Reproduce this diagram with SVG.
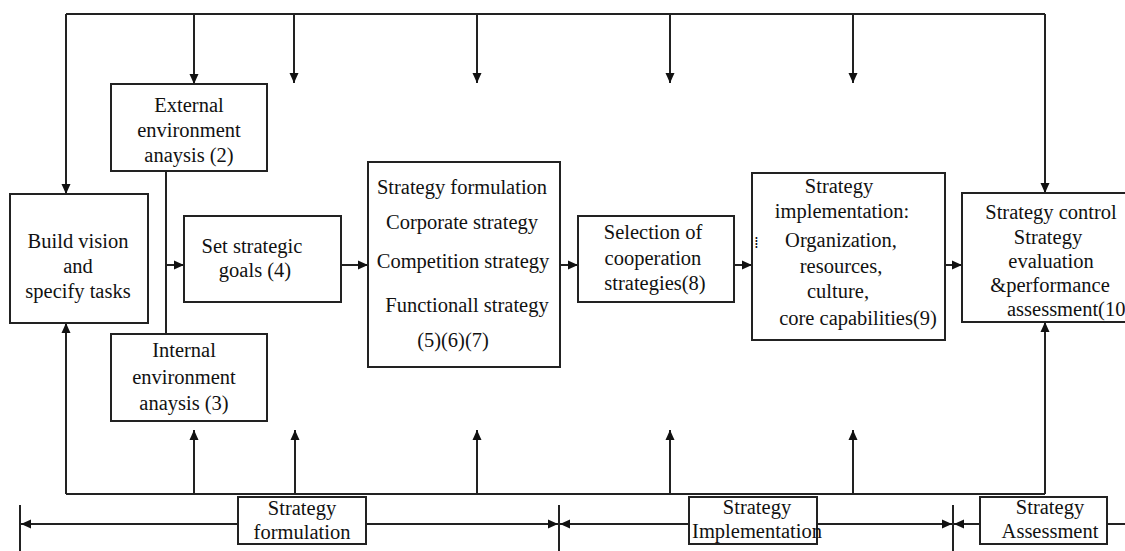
<svg xmlns="http://www.w3.org/2000/svg" width="1125" height="551" viewBox="0 0 1125 551">
  <style>
    .box { fill: #fff; stroke: #222; stroke-width: 2; }
    .ln { fill: none; stroke: #222; stroke-width: 2; }
    .arr { fill: none; stroke: #222; stroke-width: 2; marker-end: url(#head); }
    .t { font-family: 'Liberation Serif', 'DejaVu Serif', 'Times New Roman', Times, serif; font-size: 20.5px; fill: #111; }
    .c { text-anchor: middle; }
    .dots { font-family: 'DejaVu Sans', sans-serif; font-size: 15px; fill: #111; }
  </style>
  <defs>
    <marker id="head" viewBox="0 0 10 10" refX="10" refY="5" markerWidth="10" markerHeight="10" markerUnits="userSpaceOnUse" orient="auto">
      <path d="M0,0.5 L10,5 L0,9.5 Z" fill="#111"/>
    </marker>
  </defs>
  <rect width="1125" height="551" fill="#fff"/>

  <g id="connectors">
    <!-- feedback loop across the top -->
    <polyline class="ln" points="66,14 1045,14"/>
    <line class="arr" x1="66" y1="14" x2="66" y2="194"/>
    <line class="arr" x1="194" y1="14" x2="194" y2="84"/>
    <line class="arr" x1="294" y1="14" x2="294" y2="83"/>
    <line class="arr" x1="477" y1="14" x2="477" y2="83"/>
    <line class="arr" x1="670" y1="14" x2="670" y2="83"/>
    <line class="arr" x1="853" y1="14" x2="853" y2="83"/>
    <line class="arr" x1="1045" y1="14" x2="1045" y2="193"/>
    <!-- feedback loop across the bottom -->
    <polyline class="ln" points="66,494 1045,494"/>
    <line class="arr" x1="66" y1="494" x2="66" y2="323"/>
    <line class="arr" x1="194" y1="494" x2="194" y2="430"/>
    <line class="arr" x1="295" y1="494" x2="295" y2="430"/>
    <line class="arr" x1="477" y1="494" x2="477" y2="430"/>
    <line class="arr" x1="670" y1="494" x2="670" y2="430"/>
    <line class="arr" x1="853" y1="494" x2="853" y2="430"/>
    <line class="arr" x1="1045" y1="494" x2="1045" y2="322"/>
    <!-- environment analysis link and main flow -->
    <line class="ln" x1="166" y1="171" x2="166" y2="334"/>
    <line class="arr" x1="166" y1="265" x2="184" y2="265"/>
    <line class="arr" x1="341" y1="265" x2="368" y2="265"/>
    <line class="arr" x1="560" y1="265" x2="578" y2="265"/>
    <line class="arr" x1="734" y1="265" x2="752" y2="265"/>
    <line class="arr" x1="945" y1="265" x2="962" y2="265"/>
    <!-- phase span arrows -->
    <line class="ln" x1="20" y1="505" x2="20" y2="551"/>
    <line class="ln" x1="559" y1="505" x2="559" y2="551"/>
    <line class="ln" x1="953" y1="505" x2="953" y2="551"/>
    <line class="arr" x1="238" y1="524" x2="21" y2="524"/>
    <line class="arr" x1="366" y1="524" x2="558" y2="524"/>
    <line class="arr" x1="689" y1="524" x2="560" y2="524"/>
    <line class="arr" x1="817" y1="524" x2="952" y2="524"/>
    <line class="arr" x1="980" y1="524" x2="954" y2="524"/>
    <line class="ln" x1="1107" y1="524" x2="1125" y2="524"/>
  </g>

  <g id="vision" class="t">
    <rect class="box" x="10" y="194" width="138" height="129"/>
    <text class="c" x="78" y="248">Build vision</text>
    <text class="c" x="78" y="273">and</text>
    <text class="c" x="78" y="298">specify tasks</text>
  </g>

  <g id="external" class="t">
    <rect class="box" x="111" y="84" width="156" height="87"/>
    <text class="c" x="189" y="112">External</text>
    <text class="c" x="189" y="137">environment</text>
    <text class="c" x="189" y="162">anaysis (2)</text>
  </g>

  <g id="internal" class="t">
    <rect class="box" x="111" y="334" width="156" height="87"/>
    <text class="c" x="184" y="357">Internal</text>
    <text class="c" x="184" y="384">environment</text>
    <text class="c" x="184" y="410">anaysis (3)</text>
  </g>

  <g id="goals" class="t">
    <rect class="box" x="184" y="216" width="157" height="86"/>
    <text class="c" x="252" y="253">Set strategic</text>
    <text class="c" x="255" y="277">goals (4)</text>
  </g>

  <g id="formulation" class="t">
    <rect class="box" x="368" y="162" width="192" height="205"/>
    <text class="c" x="462" y="194">Strategy formulation</text>
    <text class="c" x="462" y="229">Corporate strategy</text>
    <text class="c" x="463" y="268">Competition strategy</text>
    <text class="c" x="467" y="312">Functionall strategy</text>
    <text class="c" x="453" y="347">(5)(6)(7)</text>
  </g>

  <g id="cooperation" class="t">
    <rect class="box" x="578" y="216" width="156" height="86"/>
    <text class="c" x="653" y="239">Selection of</text>
    <text class="c" x="653" y="265">cooperation</text>
    <text class="c" x="655" y="290">strategies(8)</text>
  </g>

  <g id="implementation" class="t">
    <rect class="box" x="752" y="173" width="193" height="167"/>
    <text class="c" x="839" y="193">Strategy</text>
    <text class="c" x="842" y="218">implementation:</text>
    <text class="dots" x="754" y="248">⁞</text>
    <text class="c" x="841" y="247">Organization,</text>
    <text class="c" x="841" y="273">resources,</text>
    <text class="c" x="838" y="298">culture,</text>
    <text class="c" x="858" y="325">core capabilities(9)</text>
  </g>

  <g id="control" class="t">
    <rect class="box" x="962" y="193" width="180" height="129"/>
    <text class="c" x="1051" y="219">Strategy control</text>
    <text class="c" x="1048" y="244">Strategy</text>
    <text class="c" x="1051" y="268">evaluation</text>
    <text class="c" x="1050" y="292">&amp;performance</text>
    <text x="1007" y="316">assessment(10)</text>
  </g>

  <g id="phase-formulation" class="t">
    <rect class="box" x="238" y="497" width="128" height="47"/>
    <text class="c" x="302" y="515">Strategy</text>
    <text class="c" x="302" y="539">formulation</text>
  </g>

  <g id="phase-implementation" class="t">
    <rect class="box" x="689" y="497" width="128" height="47"/>
    <text class="c" x="757" y="514">Strategy</text>
    <text class="c" x="757" y="538">Implementation</text>
  </g>

  <g id="phase-assessment" class="t">
    <rect class="box" x="980" y="497" width="127" height="47"/>
    <text class="c" x="1050" y="514">Strategy</text>
    <text class="c" x="1050" y="538">Assessment</text>
  </g>
</svg>
